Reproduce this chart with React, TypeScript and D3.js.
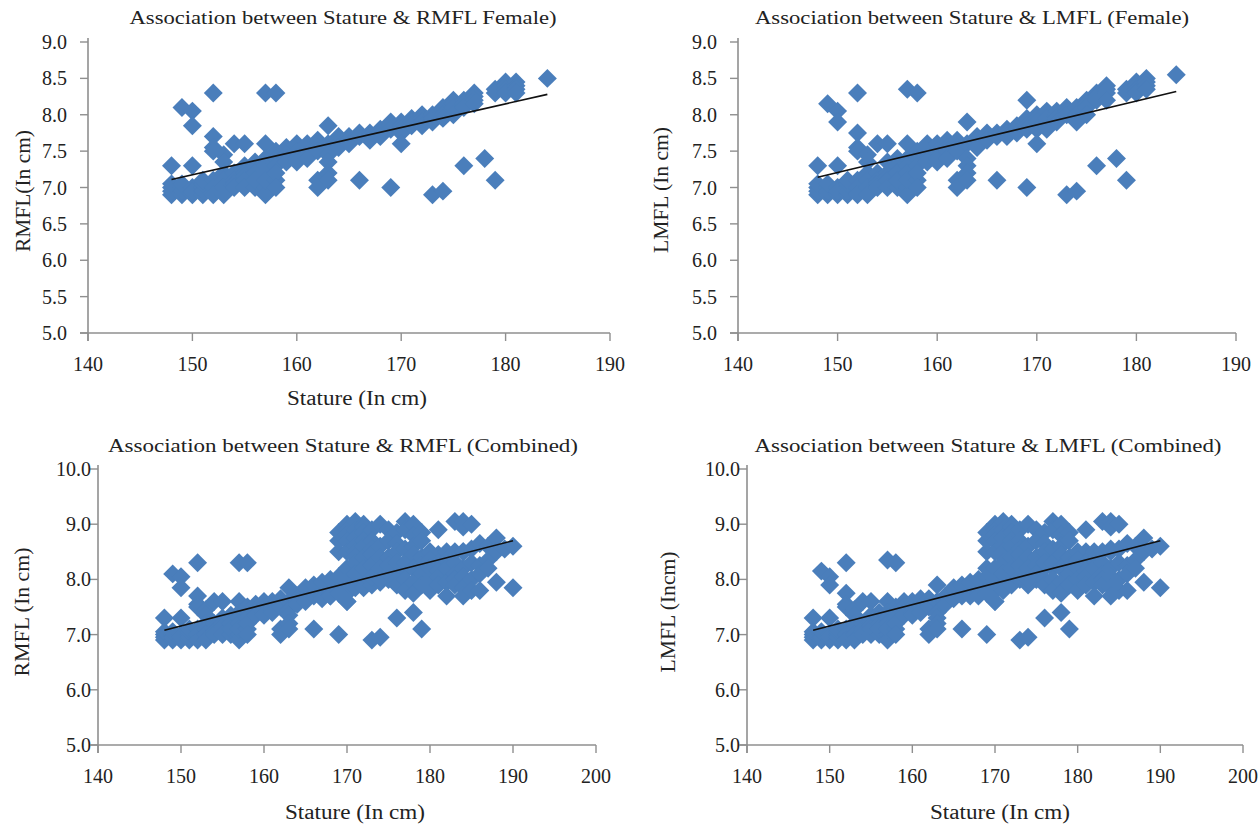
import * as d3 from "d3";
import { useEffect } from "react";

// stature (cm) vs middle finger length (cm)
const femaleRMFL: [number, number][] = [
  [148, 7.3], [148, 7.0], [148, 6.9], [148, 6.95], [148, 7.05],
  [149, 8.1], [149, 7.0], [149, 6.9], [149, 6.95], [149, 7.05],
  [150, 8.05], [150, 7.85], [150, 7.3], [150, 7.0], [150, 6.9], [150, 6.95],
  [151, 7.0], [151, 6.9], [151, 6.95], [151, 7.05], [151, 7.1],
  [152, 8.3], [152, 7.7], [152, 7.55], [152, 7.5], [152, 7.1], [152, 7.0], [152, 6.9],
  [153, 7.45], [153, 7.35], [153, 7.2], [153, 7.1], [153, 7.0], [153, 6.9],
  [154, 7.6], [154, 7.2], [154, 7.1], [154, 7.05], [154, 7.0],
  [155, 7.6], [155, 7.3], [155, 7.2], [155, 7.15], [155, 7.1], [155, 7.0],
  [156, 7.35], [156, 7.3], [156, 7.2], [156, 7.0], [156, 7.1],
  [157, 8.3], [157, 7.6], [157, 7.4], [157, 7.3], [157, 7.2], [157, 7.0], [157, 6.9], [157, 7.1],
  [158, 8.3], [158, 7.5], [158, 7.4], [158, 7.3], [158, 7.1], [158, 7.2], [158, 7.0],
  [159, 7.55], [159, 7.45], [159, 7.4], [159, 7.35],
  [160, 7.6], [160, 7.5], [160, 7.4], [160, 7.35],
  [161, 7.6], [161, 7.5], [161, 7.45], [161, 7.4],
  [162, 7.65], [162, 7.55], [162, 7.5], [162, 7.1], [162, 7.0],
  [163, 7.85], [163, 7.6], [163, 7.45], [163, 7.35], [163, 7.2], [163, 7.1],
  [164, 7.7], [164, 7.65], [164, 7.6], [164, 7.55],
  [165, 7.7], [165, 7.65], [165, 7.6],
  [166, 7.75], [166, 7.7], [166, 7.1],
  [167, 7.75], [167, 7.7], [167, 7.65],
  [168, 7.8], [168, 7.75], [168, 7.7],
  [169, 7.9], [169, 7.85], [169, 7.8], [169, 7.0],
  [170, 7.9], [170, 7.85], [170, 7.8], [170, 7.75], [170, 7.6],
  [171, 7.95], [171, 7.9], [171, 7.85],
  [172, 8.0], [172, 7.95], [172, 7.9], [172, 7.85],
  [173, 8.0], [173, 7.95], [173, 7.9], [173, 6.9],
  [174, 8.1], [174, 8.0], [174, 7.95], [174, 6.95],
  [175, 8.2], [175, 8.15], [175, 8.1], [175, 8.0],
  [176, 8.2], [176, 8.15], [176, 8.1], [176, 7.3],
  [177, 8.3], [177, 8.25], [177, 8.2], [177, 8.15],
  [178, 7.4],
  [179, 8.35], [179, 8.3], [179, 7.1],
  [180, 8.45], [180, 8.4], [180, 8.35], [180, 8.3],
  [181, 8.45], [181, 8.4], [181, 8.35], [181, 8.3],
  [184, 8.5],
];

const femaleLMFL: [number, number][] = [
  [148, 7.3], [148, 7.0], [148, 6.9], [148, 6.95], [148, 7.05],
  [149, 8.15], [149, 7.0], [149, 6.9], [149, 6.95], [149, 7.05],
  [150, 8.05], [150, 7.9], [150, 7.3], [150, 7.0], [150, 6.9], [150, 6.95],
  [151, 7.0], [151, 6.9], [151, 6.95], [151, 7.05], [151, 7.1],
  [152, 8.3], [152, 7.75], [152, 7.55], [152, 7.5], [152, 7.1], [152, 7.0], [152, 6.9],
  [153, 7.45], [153, 7.35], [153, 7.2], [153, 7.1], [153, 7.0], [153, 6.9],
  [154, 7.6], [154, 7.2], [154, 7.1], [154, 7.05], [154, 7.0],
  [155, 7.6], [155, 7.35], [155, 7.2], [155, 7.15], [155, 7.1], [155, 7.0],
  [156, 7.4], [156, 7.3], [156, 7.2], [156, 7.0], [156, 7.1],
  [157, 8.35], [157, 7.6], [157, 7.4], [157, 7.3], [157, 7.2], [157, 7.0], [157, 6.9], [157, 7.1],
  [158, 8.3], [158, 7.5], [158, 7.4], [158, 7.3], [158, 7.1], [158, 7.2], [158, 7.0],
  [159, 7.6], [159, 7.5], [159, 7.4], [159, 7.35],
  [160, 7.6], [160, 7.5], [160, 7.4], [160, 7.35],
  [161, 7.65], [161, 7.55], [161, 7.5], [161, 7.4],
  [162, 7.65], [162, 7.55], [162, 7.5], [162, 7.1], [162, 7.0],
  [163, 7.9], [163, 7.6], [163, 7.4], [163, 7.3], [163, 7.2], [163, 7.1],
  [164, 7.7], [164, 7.65], [164, 7.6], [164, 7.55],
  [165, 7.75], [165, 7.7], [165, 7.65],
  [166, 7.75], [166, 7.7], [166, 7.1],
  [167, 7.8], [167, 7.75], [167, 7.7],
  [168, 7.85], [168, 7.8], [168, 7.75],
  [169, 8.2], [169, 7.95], [169, 7.85], [169, 7.8], [169, 7.0],
  [170, 8.0], [170, 7.95], [170, 7.9], [170, 7.8], [170, 7.6],
  [171, 8.05], [171, 7.95], [171, 7.85], [171, 7.8],
  [172, 8.05], [172, 8.0], [172, 7.95], [172, 7.9],
  [173, 8.1], [173, 8.05], [173, 8.0], [173, 6.9],
  [174, 8.1], [174, 8.0], [174, 7.9], [174, 6.95],
  [175, 8.2], [175, 8.15], [175, 8.1], [175, 8.0],
  [176, 8.3], [176, 8.25], [176, 8.2], [176, 7.3],
  [177, 8.4], [177, 8.35], [177, 8.3], [177, 8.2],
  [178, 7.4],
  [179, 8.35], [179, 8.3], [179, 7.1],
  [180, 8.45], [180, 8.4], [180, 8.35], [180, 8.3],
  [181, 8.5], [181, 8.45], [181, 8.4], [181, 8.35],
  [184, 8.55],
];

// extra (male) points that show up only in the combined plots
const maleRMFL: [number, number][] = [
  [165, 7.85], [166, 7.9], [167, 7.95], [168, 8.0], [168, 7.7],
  [169, 8.05], [169, 7.75], [169, 8.5], [169, 8.7], [169, 8.85],
  [170, 9.0], [170, 8.9], [170, 8.8], [170, 8.7], [170, 8.5], [170, 8.2], [170, 8.0], [170, 7.6],
  [171, 9.05], [171, 8.9], [171, 8.75], [171, 8.6], [171, 8.5], [171, 8.4], [171, 8.3], [171, 8.1],
  [172, 9.0], [172, 8.95], [172, 8.85], [172, 8.7], [172, 8.6], [172, 8.4], [172, 8.2],
  [173, 8.9], [173, 8.7], [173, 8.55], [173, 8.45], [173, 8.25], [173, 8.05],
  [174, 9.0], [174, 8.6], [174, 8.4], [174, 8.2], [174, 8.0],
  [175, 8.9], [175, 8.7], [175, 8.4], [175, 8.25], [175, 8.1],
  [176, 8.85], [176, 8.65], [176, 8.5], [176, 8.3], [176, 8.0], [176, 7.9],
  [177, 9.05], [177, 8.9], [177, 8.55], [177, 8.3], [177, 8.0], [177, 7.8],
  [178, 9.0], [178, 8.8], [178, 8.6], [178, 8.45], [178, 8.2], [178, 7.95], [178, 7.75],
  [179, 8.85], [179, 8.7], [179, 8.4], [179, 8.25], [179, 8.1], [179, 7.9],
  [180, 8.5], [180, 8.35], [180, 8.2], [180, 8.0], [180, 7.8],
  [181, 8.9], [181, 8.3], [181, 8.15], [181, 8.05], [181, 7.9],
  [182, 8.5], [182, 8.35], [182, 8.2], [182, 7.95], [182, 7.7],
  [183, 9.05], [183, 8.5], [183, 8.3], [183, 8.1], [183, 8.0], [183, 7.9],
  [184, 9.05], [184, 8.95], [184, 8.5], [184, 8.2], [184, 8.05], [184, 7.85], [184, 7.7],
  [185, 9.0], [185, 8.55], [185, 8.3], [185, 8.0], [185, 7.8],
  [186, 8.65], [186, 8.25], [186, 8.1], [186, 7.8],
  [187, 8.6], [187, 8.35], [187, 8.2],
  [188, 8.75], [188, 8.5], [188, 7.95],
  [189, 8.55],
  [190, 8.6], [190, 7.85],
];

const maleLMFL: [number, number][] = [
  [165, 7.85], [166, 7.9], [167, 7.95], [168, 8.0], [168, 7.7],
  [169, 8.05], [169, 7.75], [169, 8.5], [169, 8.7], [169, 8.85],
  [170, 9.0], [170, 8.9], [170, 8.8], [170, 8.7], [170, 8.5], [170, 8.2], [170, 8.0], [170, 7.6],
  [171, 9.05], [171, 8.9], [171, 8.75], [171, 8.6], [171, 8.5], [171, 8.4], [171, 8.3], [171, 8.1],
  [172, 9.0], [172, 8.95], [172, 8.85], [172, 8.7], [172, 8.6], [172, 8.4], [172, 8.2],
  [173, 8.9], [173, 8.7], [173, 8.55], [173, 8.45], [173, 8.25], [173, 8.05],
  [174, 9.0], [174, 8.6], [174, 8.4], [174, 8.2], [174, 8.0],
  [175, 8.9], [175, 8.7], [175, 8.4], [175, 8.25], [175, 8.1],
  [176, 8.85], [176, 8.65], [176, 8.5], [176, 8.3], [176, 8.0], [176, 7.9],
  [177, 9.05], [177, 8.9], [177, 8.55], [177, 8.3], [177, 8.0], [177, 7.8],
  [178, 9.0], [178, 8.8], [178, 8.6], [178, 8.45], [178, 8.2], [178, 7.95], [178, 7.75],
  [179, 8.85], [179, 8.7], [179, 8.4], [179, 8.25], [179, 8.1], [179, 7.9],
  [180, 8.5], [180, 8.35], [180, 8.2], [180, 8.0], [180, 7.8],
  [181, 8.9], [181, 8.3], [181, 8.15], [181, 8.05], [181, 7.9],
  [182, 8.5], [182, 8.35], [182, 8.2], [182, 7.95], [182, 7.7],
  [183, 9.05], [183, 8.5], [183, 8.3], [183, 8.1], [183, 8.0], [183, 7.9],
  [184, 9.05], [184, 8.95], [184, 8.5], [184, 8.2], [184, 8.05], [184, 7.85], [184, 7.7],
  [185, 9.0], [185, 8.55], [185, 8.3], [185, 8.0], [185, 7.8],
  [186, 8.65], [186, 8.25], [186, 8.1], [186, 7.8],
  [187, 8.6], [187, 8.35], [187, 8.2],
  [188, 8.75], [188, 8.5], [188, 7.95],
  [189, 8.55],
  [190, 8.6], [190, 7.85],
];

const combinedRMFL = [...femaleRMFL, ...maleRMFL];
const combinedLMFL = [...femaleLMFL, ...maleLMFL];

// linear trend line end points
const trendFemaleRMFL: [number, number][] = [[148, 7.11], [184, 8.28]];
const trendFemaleLMFL: [number, number][] = [[148, 7.14], [184, 8.32]];
const trendCombinedRMFL: [number, number][] = [[148, 7.08], [190, 8.7]];
const trendCombinedLMFL: [number, number][] = [[148, 7.08], [190, 8.7]];

const xTicksFemale = [140, 150, 160, 170, 180, 190];
const xTicksCombined = [140, 150, 160, 170, 180, 190, 200];
const yTicksFemale = [5.0, 5.5, 6.0, 6.5, 7.0, 7.5, 8.0, 8.5, 9.0];
const yTicksCombined = [5.0, 6.0, 7.0, 8.0, 9.0, 10.0];

const panels = [
  {
    data: femaleRMFL, trend: trendFemaleRMFL, xTicks: xTicksFemale, yTicks: yTicksFemale,
    left: 88, right: 610, top: 42, bottom: 333, labelGap: 21,
    title: "Association between Stature & RMFL Female)", titleX: 343, titleY: 18, titleLen: 427,
    yTitle: "RMFL(In cm)", yTitleX: 23, yTitleY: 191, yTitleLen: 122,
    xTitle: "Stature (In cm)", xTitleX: 357, xTitleY: 398,
  },
  {
    data: femaleLMFL, trend: trendFemaleLMFL, xTicks: xTicksFemale, yTicks: yTicksFemale,
    left: 738, right: 1236, top: 42, bottom: 333, labelGap: 21,
    title: "Association between Stature & LMFL (Female)", titleX: 972, titleY: 18, titleLen: 434,
    yTitle: "LMFL (In cm)", yTitleX: 661, yTitleY: 190, yTitleLen: 126,
    xTitle: null, xTitleX: 0, xTitleY: 0,
  },
  {
    data: combinedRMFL, trend: trendCombinedRMFL, xTicks: xTicksCombined, yTicks: yTicksCombined,
    left: 98, right: 596, top: 469, bottom: 745, labelGap: 7,
    title: "Association between Stature & RMFL (Combined)", titleX: 343, titleY: 446, titleLen: 470,
    yTitle: "RMFL (In cm)", yTitleX: 22, yTitleY: 612, yTitleLen: 129,
    xTitle: "Stature (In cm)", xTitleX: 355, xTitleY: 812,
  },
  {
    data: combinedLMFL, trend: trendCombinedLMFL, xTicks: xTicksCombined, yTicks: yTicksCombined,
    left: 747, right: 1243, top: 469, bottom: 745, labelGap: 7,
    title: "Association between Stature & LMFL (Combined)", titleX: 988, titleY: 446, titleLen: 467,
    yTitle: "LMFL (Incm)", yTitleX: 668, yTitleY: 612, yTitleLen: 121,
    xTitle: "Stature (In cm)", xTitleX: 1000, xTitleY: 812,
  },
];

const font = "'Liberation Serif', 'DejaVu Serif', serif";
const axisColor = "#8f8f8f";
const markerColor = "#4a7ebb";
const diamond = d3.symbol(d3.symbolSquare, 180)();

function Panel({ p }) {
  const x = d3
    .scaleLinear()
    .domain([p.xTicks[0], p.xTicks[p.xTicks.length - 1]])
    .range([p.left, p.right]);
  const y = d3
    .scaleLinear()
    .domain([p.yTicks[0], p.yTicks[p.yTicks.length - 1]])
    .range([p.bottom, p.top]);
  const line = d3
    .line<[number, number]>()
    .x((d) => x(d[0]))
    .y((d) => y(d[1]));

  return (
    <g>
      <text
        x={p.titleX}
        y={p.titleY}
        dy="0.35em"
        textAnchor="middle"
        fontSize={18}
        textLength={p.titleLen}
        lengthAdjust="spacingAndGlyphs"
        fill="#222"
      >
        {p.title}
      </text>

      {/* Y axis */}
      <line x1={p.left} x2={p.left} y1={p.top - 4} y2={p.bottom + 8} stroke={axisColor} strokeWidth={1.6} />
      {p.yTicks.map((t) => (
        <g key={t}>
          <line x1={p.left - 8} x2={p.left} y1={y(t)} y2={y(t)} stroke={axisColor} strokeWidth={1.4} />
          <text
            x={p.left - p.labelGap}
            y={y(t)}
            dy="0.35em"
            textAnchor="end"
            fontSize={20}
            fill="#222"
          >
            {t.toFixed(1)}
          </text>
        </g>
      ))}

      {/* X axis */}
      <line x1={p.left - 8} x2={p.right} y1={p.bottom} y2={p.bottom} stroke={axisColor} strokeWidth={1.6} />
      {p.xTicks.map((t) => (
        <g key={t}>
          <line x1={x(t)} x2={x(t)} y1={p.bottom} y2={p.bottom + 8} stroke={axisColor} strokeWidth={1.4} />
          <text x={x(t)} y={p.bottom + 31} dy="0.35em" textAnchor="middle" fontSize={20} fill="#222">
            {t}
          </text>
        </g>
      ))}

      {/* points */}
      {p.data.map((d, i) => (
        <path
          key={i}
          d={diamond}
          transform={`translate(${x(d[0])},${y(d[1])}) rotate(45)`}
          fill={markerColor}
        />
      ))}

      {/* trend */}
      <path d={line(p.trend)} stroke="#111" strokeWidth={1.6} fill="none" />

      <text
        transform={`translate(${p.yTitleX},${p.yTitleY}) rotate(-90)`}
        dy="0.35em"
        textAnchor="middle"
        fontSize={20}
        textLength={p.yTitleLen}
        lengthAdjust="spacingAndGlyphs"
        fill="#222"
      >
        {p.yTitle}
      </text>
      {p.xTitle && (
        <text
          x={p.xTitleX}
          y={p.xTitleY}
          dy="0.35em"
          textAnchor="middle"
          fontSize={20}
          textLength={140}
          lengthAdjust="spacingAndGlyphs"
          fill="#222"
        >
          {p.xTitle}
        </text>
      )}
    </g>
  );
}

export default function App() {
  useEffect(() => {
    document.body.style.margin = "0";
  }, []);

  return (
    <div style={{ position: "absolute", left: 0, top: 0 }}>
      <svg width={1260} height={824} style={{ display: "block", background: "#fff", fontFamily: font }}>
        {panels.map((p, i) => (
          <Panel key={i} p={p} />
        ))}
      </svg>
    </div>
  );
}
